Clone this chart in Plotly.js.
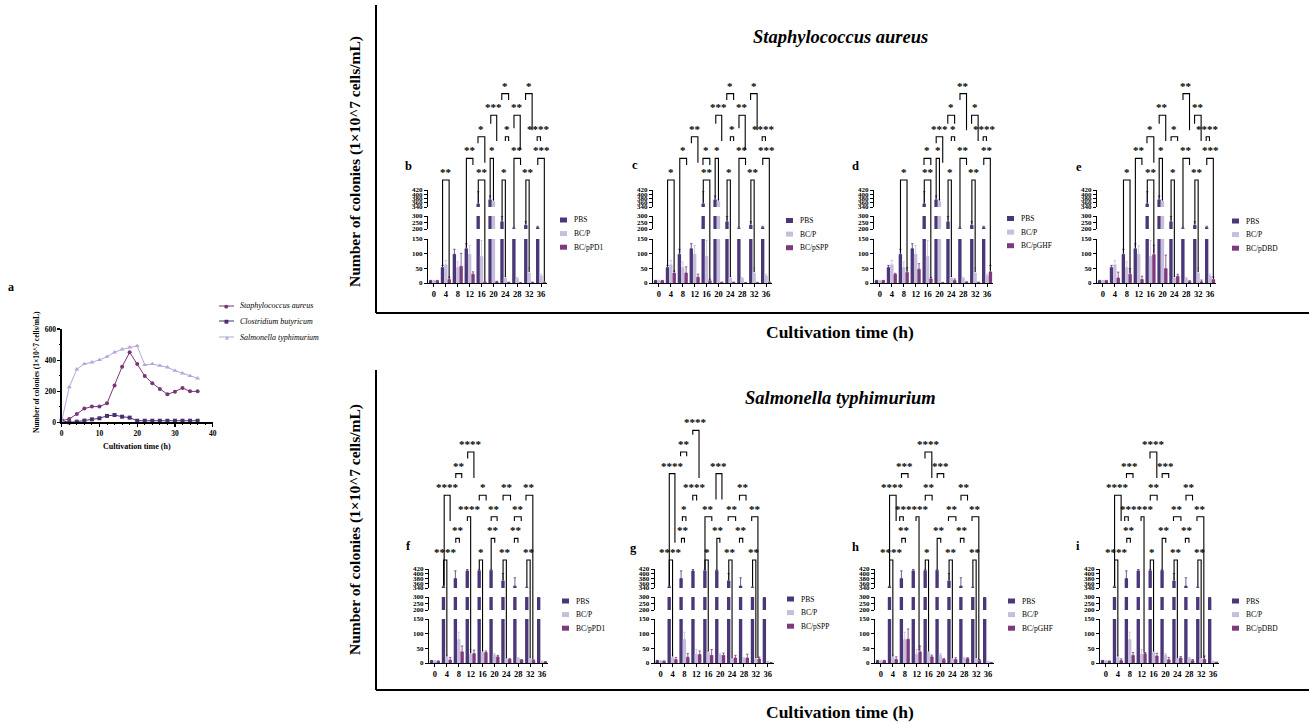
<!DOCTYPE html>
<html><head><meta charset="utf-8">
<script src="https://cdn.plot.ly/plotly-3.0.1.min.js"></script>
<style>html,body{margin:0;padding:0;background:#fff}#chart{width:1309px;height:722px}</style>
</head><body><div id="chart"></div>
<script>
// ================= DATA =================
// panel a : growth curves
const aTime  = [0,2,4,6,8,10,12,14,16,18,20,22,24,26,28,30,32,34,36];
const aStaph = [10,21,54,88,101,101,122,236,358,450,375,298,251,214,180,197,221,199,199];
const aClost = [10,0,4,11,19,26,41,47,36,30,10,10,10,10,10,10,10,10,10];
const aSalm  = [8,227,341,375,386,401,422,450,469,482,491,369,375,364,354,332,315,298,283];
const aNames = ['Staphylococcus aureus','Clostridium butyricum','Salmonella typhimurium'];

// bar panels
const times     = [0,4,8,12,16,20,24,28,32,36];
const timeText  = ['0','4','8','12','16','20','24','28','32','36'];
const ctrlNames = ['PBS','BC/P'];

// Staphylococcus aureus (b-e)
const saPBS    = [8,53,98,117,355,374,256,205,230,211];
const saPBSErr = [1,7,17,17,57,18,41,8,26,10];
const saBCP    = [8,62,53,98,91,366,17,15,34,24];
const saBCPErr = [1,15,19,30,54,8,5,4,18,6];
const bPD1     = [8,12,57,30,3,4,2,1,2,2];
const bPD1Err  = [1,8,44,8,2,2,1,1,1,1];
const cSPP     = [8,34,34,20,8,2,2,1,1,2];
const cSPPErr  = [1,7,21,10,5,1,1,1,1,1];
const dGHF     = [8,30,36,47,14,1,9,3,2,38];
const dGHFErr  = [1,3,16,19,4,1,5,1,1,22];
const eDBD     = [8,17,30,12,97,49,23,5,4,12];
const eDBDErr  = [1,20,19,11,32,46,7,3,6,8];

// Salmonella typhimurium (f-i)
const stPBS    = [8,345,380,412,413,414,370,348,342,296];
const stPBSErr = [1,3,32,6,6,5,31,35,3,3];
const stBCP    = [7,19,80,30,36,27,13,16,14,5];
const stBCPErr = [1,8,25,16,5,5,3,3,3,1];
const fPD1     = [6,10,38,32,36,21,13,10,9,4];
const fPD1Err  = [1,9,20,12,5,5,2,2,2,1];
const gSPP     = [6,12,20,29,26,26,17,17,14,1];
const gSPPErr  = [1,7,12,12,20,8,9,13,6,1];
const hGHF     = [8,12,81,38,21,12,12,15,8,1];
const hGHFErr  = [1,9,35,20,6,3,6,3,4,1];
const iDBD     = [6,8,26,32,24,11,17,8,12,2];
const iDBDErr  = [1,6,10,4,9,8,5,4,12,1];

// significance brackets: [label, hourLeft, hourRight, row, leftLeg, rightLeg] ('b' = down to bar)
const brB = [
 ['*',22.8,25.1,4,3.7,3.7],['*',30.8,33.0,4,3.7,2.3],
 ['***',19.1,21.1,3,2.6,1.8],['**',26.9,29.0,3,2.4,1.4],
 ['*',14.8,17.1,2,1.7,0.8],['*',24.0,25.1,2,1.8,1.8],['****',34.7,35.8,2,1.8,1.8],
 ['**',10.9,13.1,1,'b',0.7],['*',18.9,20.0,1,'b','b'],['**',26.9,29.1,1,'b',0.7],['***',34.9,37.1,1,0.7,'b'],
 ['**',2.9,5.1,0,'b','b'],['**',14.9,17.1,0,'b','b'],['*',22.9,24.0,0,'b','b'],['**',30.9,32.0,0,'b','b']
];
const brC = [
 ['*',22.8,25.1,4,3.7,3.7],['*',30.8,33.0,4,3.7,2.3],
 ['***',19.1,21.1,3,2.6,1.8],['**',26.9,29.0,3,2.4,1.4],
 ['**',10.9,13.1,2,1.7,0.8],['*',24.0,25.1,2,1.8,1.8],['****',34.7,35.8,2,1.8,1.8],
 ['*',7.0,9.3,1,'b',0.7],['*',14.8,17.1,1,0.7,0.7],['*',18.9,20.0,1,'b','b'],['**',26.9,29.1,1,'b',0.7],['***',34.9,37.1,1,0.7,'b'],
 ['*',2.9,5.1,0,'b','b'],['**',14.9,17.1,0,'b','b'],['*',22.9,24.0,0,'b','b'],['**',30.9,32.0,0,'b','b']
];
const brD = [
 ['**',26.9,29.1,4,3.7,2.3],
 ['*',22.8,25.1,3,2.6,2.6],['*',30.8,33.0,3,2.6,1.8],
 ['***',18.9,21.1,2,1.7,0.8],['*',24.0,25.1,2,1.8,1.8],['****',34.7,35.8,2,1.8,1.8],
 ['*',14.8,17.1,1,0.7,0.7],['*',18.9,20.0,1,'b','b'],['**',26.9,29.1,1,'b',0.7],['**',34.9,37.1,1,0.7,'b'],
 ['*',6.9,9.1,0,'b','b'],['**',14.9,17.1,0,'b','b'],['*',22.9,24.0,0,'b','b'],['**',30.9,32.0,0,'b','b']
];
const brE = [
 ['**',26.9,29.1,4,3.7,2.3],
 ['**',18.9,21.1,3,2.6,1.8],['**',30.8,33.0,3,2.6,1.8],
 ['*',14.8,17.1,2,1.7,0.8],['*',22.9,25.1,2,1.8,1.8],['****',34.7,35.8,2,1.8,1.8],
 ['**',10.9,13.1,1,'b',0.7],['*',18.9,20.0,1,'b','b'],['**',26.9,29.1,1,'b',0.7],['***',34.9,37.1,1,0.7,'b'],
 ['*',6.9,9.1,0,'b','b'],['**',14.9,17.1,0,'b','b'],['*',22.9,24.0,0,'b','b'],['**',30.9,32.0,0,'b','b']
];
const brF = [
 ['****',11.0,13.1,5,4.7,3.8],['**',7.0,9.0,4,3.8,3.8],
 ['****',3.1,5.1,3,'b',1.8],['*',14.9,17.2,3,2.75,2.75],['**',22.9,25.4,3,2.75,2.75],['**',30.6,32.9,3,2.75,'b'],
 ['****',10.9,12.0,2,1.8,'b'],['**',18.9,20.9,2,1.8,1.8],['**',26.7,29.0,2,1.8,1.8],
 ['**',7.0,8.2,1,0.8,0.8],['**',18.9,20.1,1,'b',0.8],['**',26.7,27.9,1,0.8,0.8],
 ['****',2.9,4.0,0,'b','b'],['*',14.9,16.0,0,'b','b'],['**',22.9,24.0,0,'b','b'],['**',30.9,32.0,0,'b','b']
];
const brG = [
 ['****',10.8,12.9,6,5.8,3.8],['**',6.7,8.75,5,4.8,4.8],
 ['****',2.9,4.8,4,'b',0.8],['***',18.6,20.6,4,2.8,2.8],
 ['****',10.8,12.1,3,2.75,2.75],['**',26.5,28.7,3,2.75,2.75],
 ['*',7.3,8.5,2,1.8,1.8],['**',14.9,17.2,2,'b',1.8],['**',22.7,25.2,2,1.8,1.8],['**',30.6,32.7,2,1.8,'b'],
 ['**',7.0,8.0,1,0.8,0.8],['**',18.9,19.9,1,'b',0.8],['**',26.5,27.6,1,0.8,0.8],
 ['****',2.9,4.0,0,'b','b'],['*',14.9,16.0,0,'b','b'],['**',22.9,24.0,0,'b','b'],['**',30.9,32.0,0,'b','b']
];
const brH = [
 ['****',14.8,17.1,5,4.7,3.8],['***',6.9,9.1,4,3.8,3.8],['***',18.9,21.1,4,3.8,3.8],
 ['****',2.9,5.1,3,'b',1.8],['**',14.9,17.2,3,2.75,2.75],['**',26.9,29.1,3,2.75,2.75],
 ['**',6.3,7.5,2,1.8,1.8],['****',11.8,12.8,2,1.8,'b'],['**',22.7,25.2,2,1.8,1.8],['**',30.6,32.9,2,1.8,'b'],
 ['**',7.0,8.2,1,0.8,0.8],['**',18.9,20.1,1,'b',0.8],['**',26.7,27.9,1,0.8,0.8],
 ['****',2.9,4.0,0,'b','b'],['*',14.9,16.0,0,'b','b'],['**',22.9,24.0,0,'b','b'],['**',30.9,32.0,0,'b','b']
];
const brI = brH.map(r => r.slice());

// ================= STYLE / GEOMETRY =================
const W = 1309, H = 722;
const PX = v => v / W;
const PY = v => 1 - v / H;
const FONT = "'Liberation Serif', 'Times New Roman', serif";
const colors = ['#4b3778', '#c7bedb', '#7c3b7c'];
const aColors = ['#763677', '#4a2f70', '#b7a5d8'];
const aSymbols = ['circle', 'square', 'triangle-up'];

const topSegs = [
  {lo:0, hi:150, bot:283, top:239, ticks:[0,50,100,150]},
  {lo:200, hi:300, bot:229, top:216, ticks:[200,250,300]},
  {lo:340, hi:420, bot:207, top:190, ticks:[340,360,380,400,420]}
];
const botSegs = [
  {lo:0, hi:150, bot:663, top:619, ticks:[0,50,100,150]},
  {lo:200, hi:300, bot:610, top:597, ticks:[200,250,300]},
  {lo:340, hi:420, bot:588, top:569, ticks:[340,360,380,400,420]}
];

const panels = [
  {L:'b', n3:'BC/pPD1', v:[saPBS,saBCP,bPD1], e:[saPBSErr,saBCPErr,bPD1Err], x0:434, segs:topSegs, zero:283, leg:[560,220], lp:[408,166], br:brB},
  {L:'c', n3:'BC/pSPP', v:[saPBS,saBCP,cSPP], e:[saPBSErr,saBCPErr,cSPPErr], x0:659, segs:topSegs, zero:283, leg:[786,220.5], lp:[635,165], br:brC},
  {L:'d', n3:'BC/pGHF', v:[saPBS,saBCP,dGHF], e:[saPBSErr,saBCPErr,dGHFErr], x0:880, segs:topSegs, zero:283, leg:[1007,218.5], lp:[855,166], br:brD},
  {L:'e', n3:'BC/pDBD', v:[saPBS,saBCP,eDBD], e:[saPBSErr,saBCPErr,eDBDErr], x0:1103, segs:topSegs, zero:283, leg:[1232,221], lp:[1079,167], br:brE},
  {L:'f', n3:'BC/pPD1', v:[stPBS,stBCP,fPD1], e:[stPBSErr,stBCPErr,fPD1Err], x0:435, segs:botSegs, zero:663, leg:[562,601], lp:[408,546], br:brF},
  {L:'g', n3:'BC/pSPP', v:[stPBS,stBCP,gSPP], e:[stPBSErr,stBCPErr,gSPPErr], x0:660.7, segs:botSegs, zero:663, leg:[787,599], lp:[633,548], br:brG},
  {L:'h', n3:'BC/pGHF', v:[stPBS,stBCP,hGHF], e:[stPBSErr,stBCPErr,hGHFErr], x0:881, segs:botSegs, zero:663, leg:[1008,601], lp:[855,547], br:brH},
  {L:'i', n3:'BC/pDBD', v:[stPBS,stBCP,iDBD], e:[stPBSErr,stBCPErr,iDBDErr], x0:1106, segs:botSegs, zero:663, leg:[1232,601], lp:[1078,546], br:brI}
];

const traces = [], shapes = [], annotations = [];
const layout = {
  width:W, height:H, margin:{l:0,r:0,t:0,b:0},
  paper_bgcolor:'#ffffff', plot_bgcolor:'rgba(0,0,0,0)',
  showlegend:false, barmode:'group', bargap:0.15, bargroupgap:0,
  font:{family:FONT, color:'#000'}
};

function txt(text, x, y, size, opt) {
  annotations.push(Object.assign({
    text:text, x:PX(x), y:PY(y), xref:'paper', yref:'paper', showarrow:false,
    xanchor:'center', yanchor:'middle',
    font:{family:FONT, size:size, color:'#000'}
  }, opt || {}));
}
function line(x0,y0,x1,y1,w) {
  shapes.push({type:'line', xref:'paper', yref:'paper', x0:PX(x0), y0:PY(y0), x1:PX(x1), y1:PY(y1),
    line:{color:'#000', width:w}});
}

// ================= PANEL a =================
[aStaph, aClost, aSalm].forEach((ys, i) => {
  traces.push({type:'scatter', mode:'lines+markers', x:aTime, y:ys, name:aNames[i],
    xaxis:'x', yaxis:'y', cliponaxis:false,
    line:{color:aColors[i], width:1}, marker:{color:aColors[i], size:i===2?4.5:4, symbol:aSymbols[i]}});
});
const axBase = {showline:true, linecolor:'#000', ticks:'outside', tickcolor:'#000', showgrid:false, zeroline:false,
  tickfont:{family:FONT, size:7.5, color:'#000', weight:700}};
layout.xaxis = Object.assign({}, axBase, {domain:[PX(61.7), PX(212.7)], range:[0,40], anchor:'y',
  linewidth:1.3, ticklen:3, tickwidth:1.2, tickvals:[0,10,20,30,40],
  minor:{ticks:'outside', ticklen:1.8, dtick:2, tickwidth:1, tickcolor:'#000'}});
layout.yaxis = Object.assign({}, axBase, {domain:[PY(422.3), PY(329)], range:[0,600], anchor:'x',
  linewidth:1.3, ticklen:3, tickwidth:1.2, tickvals:[0,200,400,600],
  minor:{ticks:'outside', ticklen:1.8, dtick:100, tickwidth:1, tickcolor:'#000'}});
txt('a', 11, 287, 12, {font:{family:FONT, size:12, color:'#000', weight:700}});
txt('Cultivation time (h)', 137, 446, 8, {font:{family:FONT, size:8, color:'#000', weight:700}});
txt('Number of colonies (1×10^7 cells/mL)', 36, 372, 7.5, {textangle:-90, font:{family:FONT, size:7.5, color:'#000', weight:700}});
// legend of panel a
[306, 321, 337].forEach((yy, i) => {
  line(219, yy, 234, yy, 1);
  shapes[shapes.length-1].line.color = aColors[i];
  txt(['●','■','▲'][i], 226.5, yy, 5, {font:{family:'DejaVu Sans', size:5, color:aColors[i]}});
  txt(aNames[i], 238, yy, 8, {xanchor:'left', font:{family:FONT, size:8, color:'#000', style:'italic'}});
});

// ================= BAR PANELS =================
function valPx(v, segs) {
  for (let i = segs.length - 1; i >= 0; i--) {
    const s = segs[i];
    if (v >= s.lo) { const c = Math.min(v, s.hi); return s.bot - (c - s.lo) / (s.hi - s.lo) * (s.bot - s.top); }
  }
  return segs[0].bot;
}
const barW = 4 * (1 - layout.bargap) / 3;

let xi = 2, yi = 2;
panels.forEach(p => {
  const xd0 = p.x0 - 6, xd1 = p.x0 + 113;
  const xName = 'x' + xi;
  const yNames = p.segs.map((s, i) => 'y' + (yi + i));
  layout['xaxis' + xi] = Object.assign({}, axBase, {domain:[PX(xd0), PX(xd1)], range:[-2,38], anchor:yNames[0],
    linewidth:1, ticklen:3, tickwidth:1, tickvals:times, ticktext:timeText,
    tickfont:{family:FONT, size:8.5, color:'#000', weight:700}});
  p.segs.forEach((s, si) => {
    layout['yaxis' + (yi + si)] = Object.assign({}, axBase, {domain:[PY(s.bot), PY(s.top)], range:[s.lo, s.hi],
      anchor:xName, linewidth:1, ticklen:3, tickwidth:1, tickvals:s.ticks,
      tickfont:{family:FONT, size:7, color:'#000', weight:700}});
    for (let j = 0; j < 3; j++) {
      traces.push({type:'bar', x:times, y:p.v[j], name:j < 2 ? ctrlNames[j] : p.n3,
        xaxis:xName, yaxis:yNames[si], marker:{color:colors[j], line:{width:0}},
        error_y:{type:'data', symmetric:false, array:p.e[j], arrayminus:p.e[j].map(() => 0),
          color:colors[j], thickness:0.8, width:1.2}});
    }
  });
  txt(p.L, p.lp[0], p.lp[1], 12.5, {font:{family:FONT, size:12.5, color:'#000', weight:700}});
  const names = [ctrlNames[0], ctrlNames[1], p.n3];
  names.forEach((nm, j) => {
    const yy = p.leg[1] + j * 13.6;
    shapes.push({type:'rect', xref:'paper', yref:'paper', x0:PX(p.leg[0]), x1:PX(p.leg[0] + 7),
      y0:PY(yy + 2.5), y1:PY(yy - 2.5), fillcolor:colors[j], line:{width:0}});
    txt(nm, p.leg[0] + 12, yy, 7.5, {xanchor:'left', font:{family:FONT, size:7.5, color:'#000'}});
  });
  const hx = h => xd0 + (h + 2) / 40 * (xd1 - xd0);
  const rowPx = r => p.zero - (103 + 21.6 * r);
  const legPx = (h, leg) => {
    if (leg === 'b') {
      const g = Math.max(0, Math.min(9, Math.round(h / 4)));
      const k = Math.max(0, Math.min(2, Math.round((h - 4 * g) / barW) + 1));
      return valPx(p.v[k][g], p.segs) - 1;
    }
    return rowPx(leg);
  };
  p.br.forEach(b => {
    const [lab, hL, hR, row, lL, lR] = b;
    const xL = PX(hx(hL)), xR = PX(hx(hR));
    const yT = PY(rowPx(row)), yL = PY(legPx(hL, lL)), yR = PY(legPx(hR, lR));
    shapes.push({type:'path', xref:'paper', yref:'paper',
      path:`M${xL},${yL} L${xL},${yT} L${xR},${yT} L${xR},${yR}`, line:{color:'#000', width:1.1}});
    annotations.push({text:lab, x:PX(hx((hL + hR) / 2)), y:PY(rowPx(row) - 1), xref:'paper', yref:'paper',
      showarrow:false, xanchor:'center', yanchor:'bottom', borderpad:0,
      font:{family:FONT, size:11, color:'#000', weight:700}});
  });
  xi++; yi += 3;
});

// ================= FRAMES & TITLES =================
line(376, 5, 376, 313, 2); line(376, 313, 1309, 313, 2);
line(376, 370, 376, 690, 2); line(376, 690, 1309, 690, 2);
const bold = (s) => ({font:{family:FONT, size:s, color:'#000', weight:700}});
txt('Staphylococcus aureus', 840, 37, 18.5, {font:{family:FONT, size:18.5, color:'#000', weight:700, style:'italic'}});
txt('Salmonella typhimurium', 840, 398, 18.5, {font:{family:FONT, size:18.5, color:'#000', weight:700, style:'italic'}});
txt('Cultivation time (h)', 840, 332, 17.5, bold(17.5));
txt('Cultivation time (h)', 840, 712, 17.5, bold(17.5));
txt('Number of colonies (1×10^7 cells/mL)', 355, 162, 15.5, Object.assign({textangle:-90}, bold(15.5)));
txt('Number of colonies (1×10^7 cells/mL)', 355, 530, 15.5, Object.assign({textangle:-90}, bold(15.5)));

layout.shapes = shapes;
layout.annotations = annotations;
Plotly.newPlot('chart', traces, layout, {displayModeBar:false, staticPlot:true});
</script>
</body></html>
